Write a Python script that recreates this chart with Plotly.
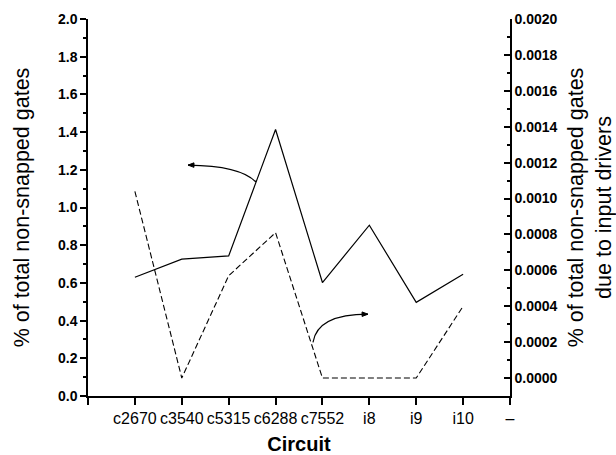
import plotly.graph_objects as go

categories = ["c2670", "c3540", "c5315", "c6288", "c7552", "i8", "i9", "i10"]
axis_labels = [" "] + categories + ["–"]
pct_non_snapped = [0.63, 0.726, 0.743, 1.414, 0.602, 0.906, 0.497, 0.646]
pct_input_drivers = [0.00104, 0.0, 0.00057, 0.00081, 0.0, 0.0, 0.0, 0.0004]

FONT = "Liberation Sans, Arial, sans-serif"
BLACK = "#000000"

fig = go.Figure()
fig.add_trace(go.Scatter(x=categories, y=pct_non_snapped, mode="lines",
                         line=dict(color=BLACK, width=1.2), yaxis="y", showlegend=False))
fig.add_trace(go.Scatter(x=categories, y=pct_input_drivers, mode="lines",
                         line=dict(color=BLACK, width=1.1, dash="6px,3px"), yaxis="y2",
                         showlegend=False))

# curved arrow annotations (data coordinates on x / y)
def curve(x0, y0, cx, cy, x1, y1):
    return f"M {x0},{y0} Q {cx},{cy} {x1},{y1}"

fig.add_shape(type="path", xref="x", yref="y",
              path=curve(3.583, 1.135, 3.25, 1.222, 2.133, 1.225),
              line=dict(color=BLACK, width=1.2))
fig.add_shape(type="path", xref="x", yref="y",
              path="M 2.133,1.225 L 2.26,1.237 L 2.26,1.213 Z",
              line=dict(color=BLACK, width=1), fillcolor=BLACK)
fig.add_shape(type="path", xref="x", yref="y",
              path=curve(4.798, 0.285, 4.90, 0.434, 5.971, 0.434),
              line=dict(color=BLACK, width=1.2))
fig.add_shape(type="path", xref="x", yref="y",
              path="M 5.971,0.434 L 5.845,0.446 L 5.845,0.422 Z",
              line=dict(color=BLACK, width=1), fillcolor=BLACK)

fig.update_layout(
    width=616, height=455,
    margin=dict(l=88, r=106, t=19, b=59),
    paper_bgcolor="white", plot_bgcolor="white",
    font=dict(family=FONT, color=BLACK),
    xaxis=dict(
        type="category", categoryorder="array", categoryarray=axis_labels,
        tickvals=axis_labels, ticktext=axis_labels, automargin=False,
        range=[0, 9], showgrid=False, zeroline=False,
        showline=True, linecolor=BLACK, linewidth=1.5,
        ticks="outside", ticklen=7, tickwidth=1.5, tickcolor=BLACK,
        tickfont=dict(family=FONT, size=16, color=BLACK),
        title=dict(text="<b>Circuit</b>", font=dict(family=FONT, size=20, color=BLACK), standoff=18),
    ),
    yaxis=dict(
        range=[0, 2.0], dtick=0.2, tickformat=".1f", showgrid=False, zeroline=False,
        automargin=False,
        showline=True, linecolor=BLACK, linewidth=1.5,
        ticks="outside", ticklen=6, tickwidth=1.5, tickcolor=BLACK,
        minor=dict(ticks="outside", ticklen=3, dtick=0.1, tickwidth=1.5, tickcolor=BLACK),
        tickfont=dict(family=FONT, size=14, color=BLACK, weight="bold"),
        title=dict(text="% of total non-snapped gates", font=dict(family=FONT, size=21.5, color=BLACK), standoff=22),
    ),
    yaxis2=dict(
        overlaying="y", side="right", anchor="x", automargin=False,
        range=[-0.0001, 0.0020], tick0=0, dtick=0.0002, tickformat=".4f",
        showgrid=False, zeroline=False,
        showline=True, linecolor=BLACK, linewidth=1.5,
        ticks="inside", ticklen=6, tickwidth=1.5, tickcolor=BLACK,
        minor=dict(ticks="inside", ticklen=3, dtick=0.0001, tickwidth=1.5, tickcolor=BLACK),
        tickfont=dict(family=FONT, size=14, color=BLACK, weight="bold"),
        title=dict(text="% of total non-snapped gates<br>due to input drivers",
                   font=dict(family=FONT, size=21.5, color=BLACK), standoff=13),
    ),
)

fig.write_html("out.html", config={"displayModeBar": False},
               post_script="document.body.style.margin='0';")
